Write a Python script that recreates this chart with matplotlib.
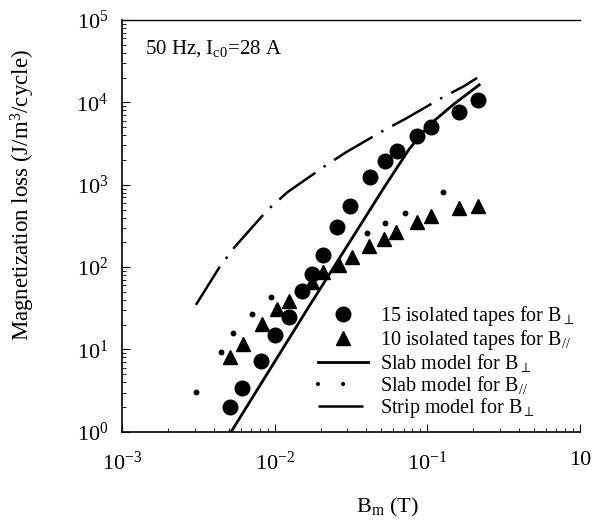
import matplotlib.pyplot as plt
from matplotlib.lines import Line2D
from matplotlib.ticker import FixedLocator, FixedFormatter, LogLocator, NullFormatter

plt.rcParams['font.family'] = ['Liberation Serif', 'DejaVu Serif']
plt.rcParams['mathtext.fontset'] = 'custom'
plt.rcParams['mathtext.rm'] = 'Liberation Serif'
plt.rcParams['mathtext.it'] = 'Liberation Serif:italic'

# 15 isolated tapes, perpendicular field
b_perp = [5.08e-3, 6.09e-3, 8.1e-3, 1.01e-2, 1.24e-2, 1.52e-2, 1.75e-2, 2.09e-2, 2.58e-2,
          3.14e-2, 4.24e-2, 5.31e-2, 6.37e-2, 8.6e-2, 0.106, 0.162, 0.215]
q_perp = [2.0, 3.4, 7.3, 15, 25, 51, 83, 141, 307, 553, 1244, 1944, 2570, 3910, 5030, 7640, 10700]

# 10 isolated tapes, parallel field
b_par = [5.08e-3, 6.18e-3, 8.22e-3, 1.03e-2, 1.25e-2, 1.77e-2, 2.06e-2, 2.66e-2, 3.19e-2,
         4.18e-2, 5.24e-2, 6.27e-2, 8.6e-2, 0.106, 0.162, 0.215]
q_par = [8.1, 11.7, 20.5, 31, 39, 66, 87, 106, 133, 181, 220, 267, 354, 418, 523, 553]

# slab model, perpendicular
slab_perp_b = [5.24e-3, 1.64e-2, 5.24e-2, 7.63e-2, 0.103, 0.150, 0.219]
slab_perp_q = [1.03, 31, 940, 2720, 5320, 9570, 16300]

# slab model, parallel (dots)
slab_par_b = [3.05e-3, 4.45e-3, 5.31e-3, 7.07e-3, 9.42e-3, 4.05e-2, 5.31e-2, 7.18e-2, 0.127]
slab_par_q = [3.06, 9.35, 15.9, 27, 43.5, 260, 344, 455, 818]

# strip model, perpendicular
strip_b = [3.05e-3, 4.37e-3, 5.48e-3, 9.0e-3, 1.22e-2, 2.19e-2, 2.96e-2, 5.24e-2, 7.18e-2,
           0.124, 0.175, 0.212]
strip_q = [34.8, 101, 176, 495, 818, 1740, 2500, 4620, 6290, 11300, 15800, 19800]

fig = plt.figure(figsize=(6.04, 5.26), dpi=100)
ax = fig.add_axes([0.202, 0.179, 0.758, 0.783])

ax.plot(b_perp, q_perp, 'o', color='black', ms=10.5)
ax.plot(b_par, q_par, '^', color='black', ms=10)
ax.plot(slab_perp_b, slab_perp_q, '-', color='black', lw=2)
ax.plot(slab_par_b, slab_par_q, 'o', color='black', ms=3.2)
ax.plot(strip_b, strip_q, color='black', lw=1.8, dashes=[18, 4, 1, 4])

ax.set_xscale('log')
ax.set_yscale('log')
ax.set_xlim(1e-3, 1)
ax.set_ylim(1, 1e5)

ax.xaxis.set_major_locator(FixedLocator([1e-3, 1e-2, 1e-1, 1]))
ax.xaxis.set_major_formatter(FixedFormatter(['10$^{-3}$', '10$^{-2}$', '10$^{-1}$', '10']))
ax.yaxis.set_major_locator(FixedLocator([1, 10, 100, 1e3, 1e4, 1e5]))
ax.yaxis.set_major_formatter(FixedFormatter(['10$^{0}$', '10$^{1}$', '10$^{2}$',
                                             '10$^{3}$', '10$^{4}$', '10$^{5}$']))
ax.xaxis.set_minor_locator(LogLocator(base=10, subs=range(2, 10)))
ax.yaxis.set_minor_locator(LogLocator(base=10, subs=range(2, 10)))
ax.xaxis.set_minor_formatter(NullFormatter())
ax.yaxis.set_minor_formatter(NullFormatter())

ax.tick_params(which='both', direction='in', top=False, right=False, labelsize=16)
ax.tick_params(axis='x', which='major', length=6, pad=14)
ax.tick_params(axis='y', which='major', length=6, pad=10)
ax.tick_params(which='minor', length=3)
ax.spines['right'].set_visible(False)
for s in ['left', 'bottom']:
    ax.spines[s].set_linewidth(1.2)
ax.spines['top'].set_linewidth(1.0)

ax.set_xlabel('B$_\\mathregular{m}$ (T)', fontsize=16)
ax.xaxis.set_label_coords(0.58, -0.155)
ax.set_ylabel('Magnetization loss (J/m$^3$/cycle)', fontsize=16.5)
ax.yaxis.set_label_coords(-0.185, 0.575)

ax.text(0.05, 0.93, '50 Hz, I$_{\\mathregular{c0}}$=28 A', transform=ax.transAxes,
        fontsize=15, va='center')

handles = [
    Line2D([], [], marker='o', color='black', ls='none', ms=10.5),
    Line2D([], [], marker='^', color='black', ls='none', ms=10),
    Line2D([], [], color='black', lw=2),
    Line2D([], [], color='black', lw=3, ls=(0, (0.01, 6)), dash_capstyle='round'),
    Line2D([], [], color='black', lw=1.8, dashes=[18, 4, 1, 4]),
]
labels = [
    '15 isolated tapes for B$_{\\perp}$',
    '10 isolated tapes for B$_{//}$',
    'Slab model for B$_{\\perp}$',
    'Slab model for B$_{//}$',
    'Strip model for B$_{\\perp}$',
]
ax.legend(handles, labels, loc='lower right', bbox_to_anchor=(1.015, 0.0), frameon=False,
          fontsize=14.5, handlelength=2.5, handletextpad=0.6, labelspacing=0.0,
          borderaxespad=0.2)

plt.savefig('out.png', dpi=100)
